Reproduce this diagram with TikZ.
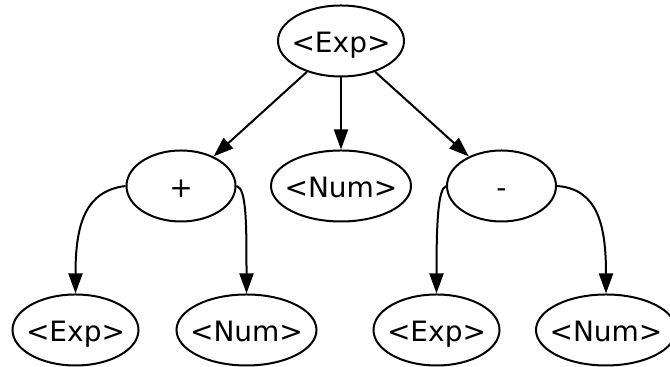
\documentclass[tikz,border=0pt]{standalone}
\usepackage{fontspec}
\setmainfont{DejaVu Sans}
\usetikzlibrary{arrows.meta,shapes.geometric}
\tikzset{
  treenode/.style = {ellipse, draw=black, line width=1pt, inner xsep=-4pt, inner ysep=0pt, minimum height=35.5pt, text height=12pt, text depth=0pt, font=\fontsize{14pt}{16pt}\selectfont},
  arn_e/.style = {treenode, minimum width=63pt},
  arn_n/.style = {treenode, minimum width=70pt},
  arn_o/.style = {treenode, minimum width=54.5pt},
  arr/.style = {-{Triangle[length=10pt, width=7pt]}, line width=1pt},
}

\begin{document}
\begin{tikzpicture}[x=0.5pt, y=0.5pt]
  \useasboundingbox (0,0) rectangle (670,367);
  \node [arn_e] (root) at (341,326) {<Exp>};
  \node [arn_o] (plus) at (181,181) {+};
  \node [arn_n] (num) at (341,181) {<Num>};
  \node [arn_o] (minus) at (501.5,181) {-};
  \node [arn_e] (exp1) at (75.5,37) {<Exp>};
  \node [arn_n] (num1) at (246.5,37) {<Num>};
  \node [arn_e] (exp2) at (436.5,37) {<Exp>};
  \node [arn_n] (num2) at (606,37) {<Num>};

  \draw [arr] (root) -- (plus);
  \draw [arr] (root) -- (num);
  \draw [arr] (root) -- (minus);
  \draw [arr] (plus.west) .. controls +(-40,-5) and +(0,70) .. (exp1.north);
  \draw [arr] (plus.east) .. controls +(10,-2) and +(0,70) .. (num1.north);
  \draw [arr] (minus.west) .. controls +(-8,-3) and +(0,70) .. (exp2.north);
  \draw [arr] (minus.east) .. controls +(40,-3) and +(0,70) .. (num2.north);
\end{tikzpicture}
\end{document}
